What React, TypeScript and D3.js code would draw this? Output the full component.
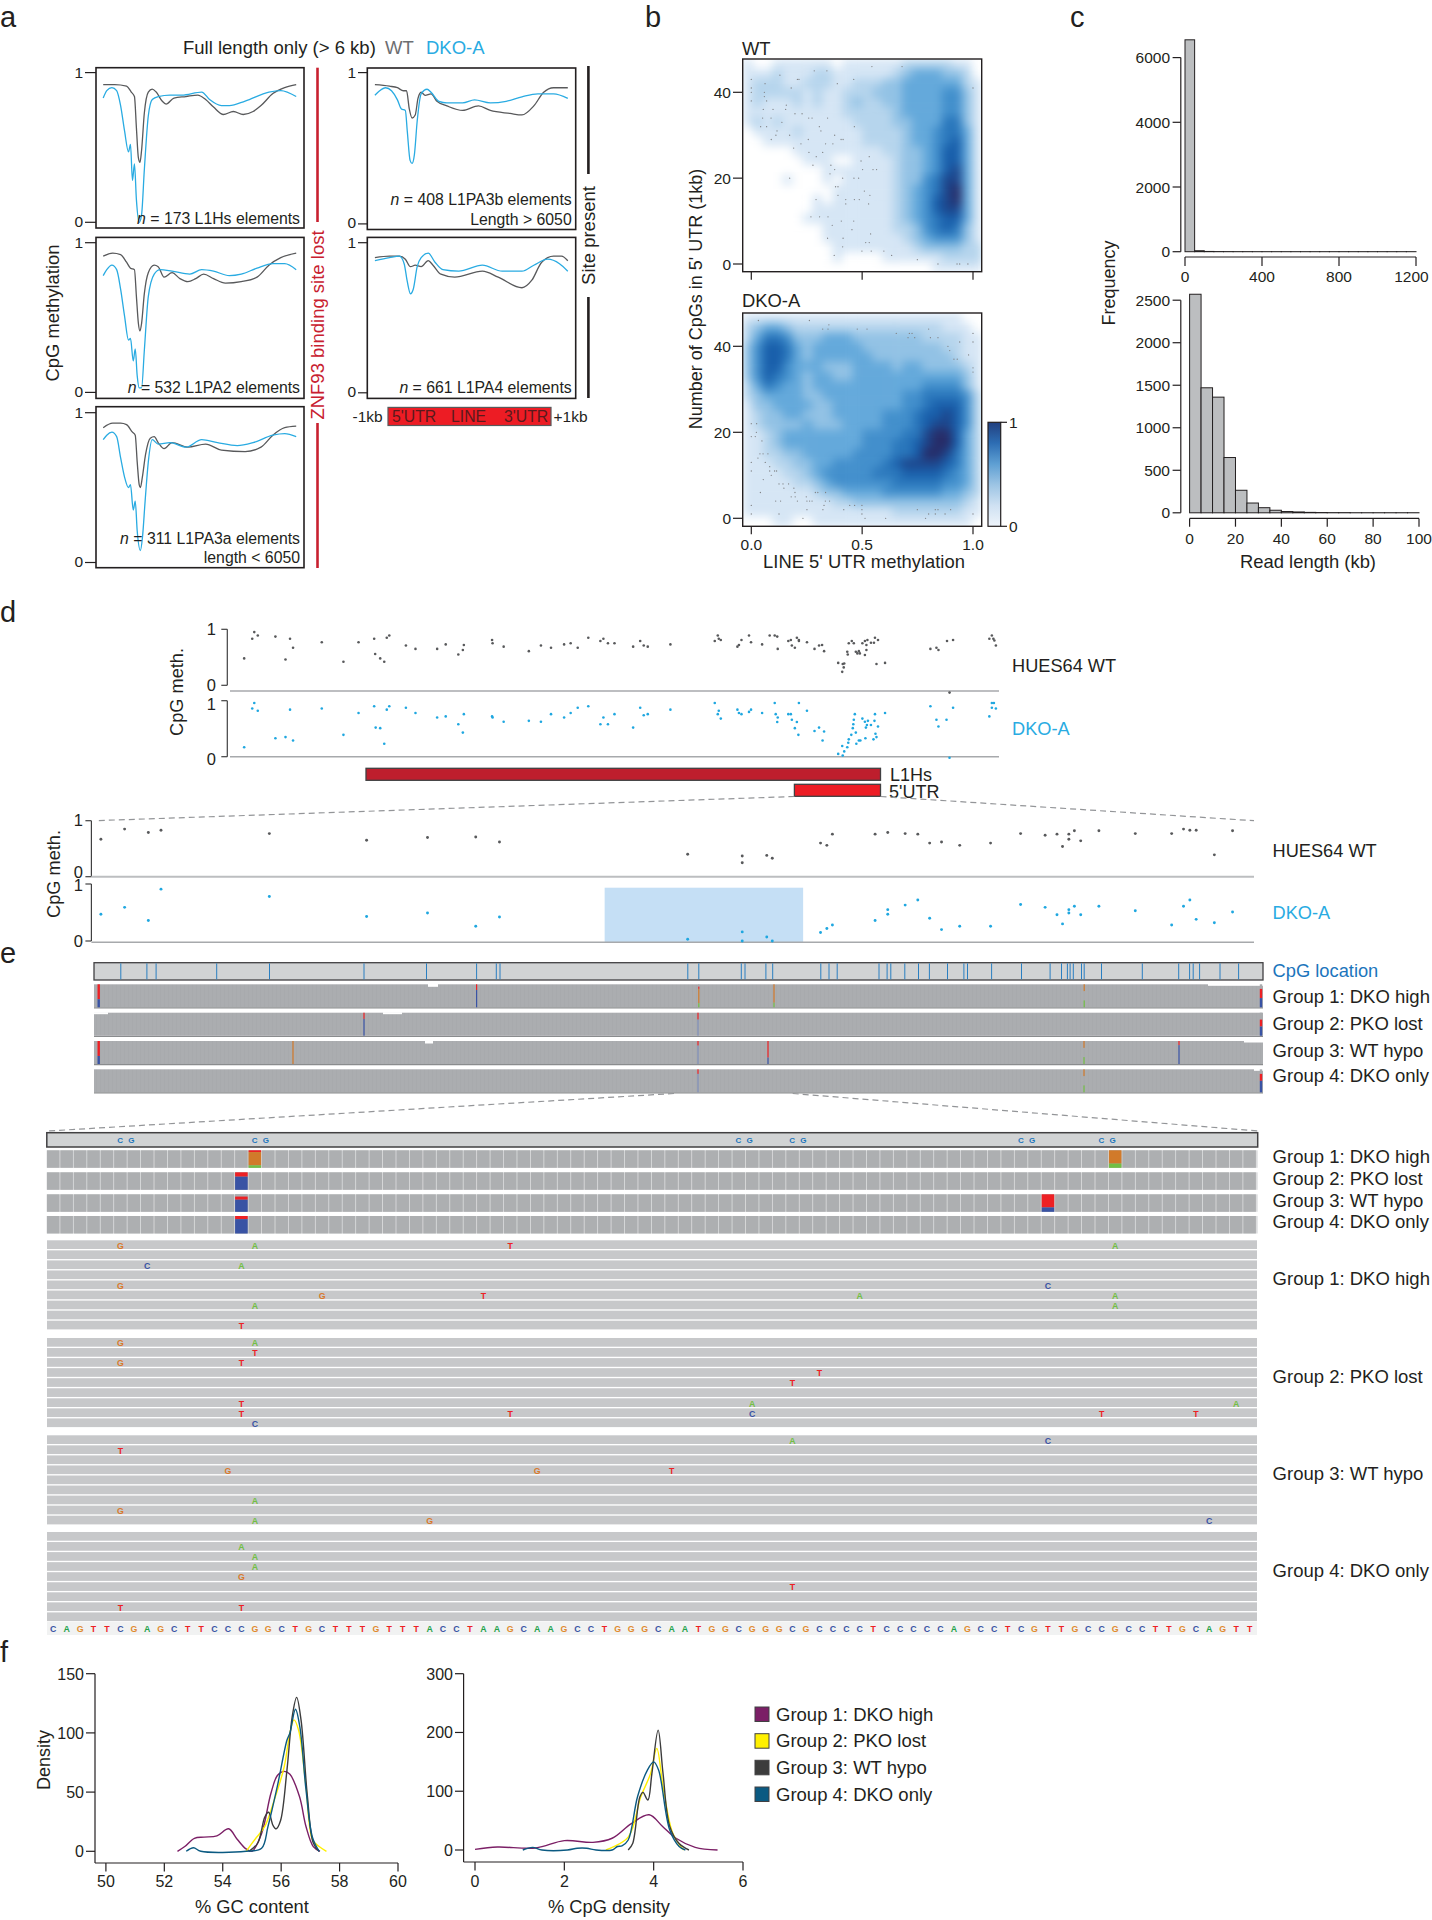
import React from "react";
import * as d3 from "d3";

// ---------- panel a: methylation profiles, [position along element, methylation]
const l1hsWt = [[0,.92],[29,.92],[59,.91],[71,.87],[79,.84],[84,.63],[89,.43],[93,.40],[97,.48],[104,.73],[114,.87],[124,.89],[134,.87],[149,.81],[159,.79],[179,.83],[209,.84],[239,.85],[259,.82],[279,.77],[304,.72],[329,.74],[354,.72],[379,.74],[399,.78],[429,.86],[459,.90],[488,.92]];
const l1hsDko = [[0,.83],[9,.88],[22,.90],[34,.88],[44,.78],[54,.61],[64,.47],[69,.52],[74,.28],[79,.39],[84,.15],[91,.0],[97,.05],[104,.35],[114,.71],[124,.82],[139,.84],[169,.85],[199,.85],[249,.87],[269,.82],[299,.78],[319,.78],[359,.81],[419,.87],[449,.88],[488,.84]];
const l1pa2Wt = [[0,.91],[24,.93],[44,.92],[59,.87],[69,.83],[79,.82],[84,.64],[89,.46],[93,.41],[97,.46],[104,.66],[114,.80],[129,.85],[139,.84],[154,.77],[174,.80],[194,.76],[214,.74],[234,.76],[254,.79],[279,.76],[309,.73],[349,.74],[389,.77],[419,.85],[449,.90],[488,.93]];
const l1pa2Dko = [[0,.78],[9,.82],[22,.85],[34,.82],[44,.69],[54,.51],[64,.35],[69,.36],[76,.21],[81,.29],[86,.11],[91,.03],[97,.03],[104,.28],[114,.64],[129,.79],[144,.82],[174,.81],[219,.79],[249,.82],[279,.81],[319,.78],[349,.79],[389,.83],[429,.86],[459,.86],[488,.82]];
const l1pa3aWt = [[0,.90],[24,.93],[44,.93],[59,.92],[74,.87],[81,.85],[86,.67],[91,.52],[94,.50],[99,.57],[107,.72],[119,.83],[129,.84],[139,.80],[154,.76],[174,.80],[214,.77],[259,.79],[299,.75],[359,.74],[399,.77],[429,.85],[459,.90],[488,.91]];
const l1pa3aDko = [[0,.82],[9,.85],[22,.87],[34,.84],[44,.70],[54,.57],[64,.50],[69,.52],[76,.35],[81,.41],[86,.21],[94,.08],[99,.16],[106,.41],[114,.67],[124,.82],[139,.79],[169,.80],[209,.77],[249,.82],[289,.80],[339,.78],[379,.80],[429,.85],[459,.86],[488,.84]];
const l1pa3bWt = [[0,.92],[37,.91],[57,.90],[72,.88],[80,.88],[87,.76],[94,.70],[102,.72],[109,.83],[117,.87],[127,.85],[142,.86],[157,.81],[182,.78],[222,.75],[262,.78],[292,.75],[342,.73],[372,.72],[402,.78],[427,.87],[452,.90],[488,.90]];
const l1pa3bDko = [[0,.85],[12,.88],[27,.90],[42,.88],[57,.82],[67,.76],[77,.75],[82,.61],[89,.42],[94,.40],[100,.46],[107,.68],[117,.86],[132,.89],[142,.87],[162,.81],[182,.80],[222,.80],[252,.82],[292,.80],[332,.81],[372,.84],[412,.86],[452,.86],[488,.83]];
const l1pa4Wt = [[0,.90],[37,.91],[62,.91],[77,.89],[90,.84],[102,.85],[117,.84],[135,.88],[147,.85],[167,.79],[202,.77],[272,.81],[312,.77],[372,.70],[397,.75],[422,.87],[452,.91],[472,.91],[488,.88]];
const l1pa4Dko = [[0,.88],[37,.90],[62,.91],[74,.86],[82,.74],[90,.66],[97,.69],[107,.84],[117,.90],[135,.93],[152,.87],[172,.82],[212,.81],[272,.85],[322,.81],[372,.81],[402,.85],[437,.89],[467,.86],[488,.81]];

// ---------- panel b: density, digit = level 0..9, top row first
const wtDensity = [
"100111111011111122222110",
"111211122111111234443320",
"122211222112223344444421",
"122222121122233344445531",
"121112121123223344445531",
"111111111122222344445531",
"121211111112222334446631",
"011112111111222234456641",
"001111111111222234456741",
"000001111111112233457741",
"000000111001111233457741",
"000000001111111233457841",
"000010001011111233568841",
"000000000111111234568941",
"000000010111111234578941",
"000000011111111234578841",
"000000111111111234567741",
"000000001111111223567631",
"000000001111111123455531",
"000000000111111112333322",
"000000000100001111112222",
"000000000000000000011111",
];
const dkoDensity = [
"111111111111111111111100",
"234432222222222222221110",
"246653334443333333222211",
"357764344444333333332211",
"357764344444433333333211",
"357754443334444344333321",
"357654344334444444444431",
"246544344444444444555531",
"234444334444444455666652",
"133444433444444455677752",
"123344333444445556778752",
"123333433344445556788752",
"112344444444555566899742",
"112344444444555667899742",
"112233444445555667998642",
"111223344555556788887642",
"111122345555566677776542",
"111112234555555666665542",
"111111123344445555554432",
"111111111223333333333321",
"111111111111111222222211",
"000110011111111111111110",
];
const wtDots = [[46,.544,.68],[45,.284,.341],[44,.129],[43,0,.208,.215,.462],[42,.062,.388],[41,0,.18,1],[40,0,.059],[39,.059],[38,0,.069],[37,.158],[36,.054,.098,.155],[35,.197,.229],[34,.051,.089,.259,.274,.344],[33,.138],[32,.042,.069,.307,.465],[31,.116,.314],[30,.111,.173,.376],[29,.09,.257,.405,.414],[28,.224,.335,.368],[27,.191],[26,.26,.322],[25,.293,.532],[24,.495],[23,.278,.359],[22,.376,.502,.549,.565],[21,.355],[20,.173,.412,.463,.484],[18,.38,.391],[17,.51],[16,.391,.535],[15,.292,.426,.465,.487],[14,.426,.529],[11,.269,.308,.346],[10,.406,.462],[9,.365],[8,.454],[7,.538],[6,.344,.414],[5,.516,.532],[4,.412],[3,.499,.541,.598],[2,.374,.633],[1,.749],[0,.842,.928,.94,.977]];
const dkoDots = [[46,.032,.262],[45,.35],[44,.322,.346,.478,.522,.8],[43,.654,.713,.725,1],[42,.707,.737,.808,.842],[41,.94,1],[40,.887],[39,.895],[38,.98],[37,.914,.929],[35,1],[34,1],[22,0,.024],[20,.023],[19,0,.018],[18,.048],[15,.039,.053,.075],[14,.03],[13,0,.063],[12,.083],[11,0,.083,.105,.114],[10,.09],[9,.054],[8,.125,.143,.168],[7,.147,.192],[6,.041,.197,.289,.3,.335],[5,.18,.198,.248],[4,.11,.132,.208,.251,.263,.274,.334,.353],[3,0,.328,.444,.466,.499],[2,.251,.323,.417,.499,.749,.83,.842,.899],[1,0,.125,.499,.8,.83,.874,1],[0,.233,.513,.606,.786]];
const heatStops = [0,.11,.3,.45,.6,.8,1];
const heatColors = ["#ffffff","#d6e6f5","#a0cae8","#62a8da","#3585c6","#155aa8","#272c68"];
const barStops = [0,.2,.4,.6,.8,1];
const barColors = ["#eef4fb","#cfe1f2","#9cc4e4","#5e9fd3","#2d6db3","#22407f"];

// ---------- panel c
const overviewBins = [6550,30,8,4,3,2,2,1,1,1,1,1,1,1,1,1,1,1,1,1,1,1,1,1];
const detailBins = [2570,1470,1360,650,265,115,60,30,15,10,5,3,2,2,1,1,1,1,1,1];

// ---------- panel d, upper tracks
const wideWtPos = [48,64,68,75,110,130,139,145,202,245,275,306,308,318,326,331,336,369,388,431,448,473,482,484,540,541,563,613,637,657,683,696,710,731,755,761,770,783,820,834,841,849,894,982,988,990,994,1027,1030,1035,1050,1054,1076,1091,1101,1106,1107,1128,1133,1135,1141,1145,1149,1149,1165,1180,1189,1195,1199,1227,1236,1239,1238,1235,1245,1246,1248,1254,1258,1262,1265,1268,1270,1275,1280,1280,1283,1283,1285,1292,1298,1300,1306,1303,1320,1410,1422,1426,1443,1455,1448,1527,1532,1535,1540,1537];
const wideWtMeth = [.48,.83,.95,.89,.87,.46,.83,.67,.77,.42,.77,.83,.56,.48,.42,.85,.89,.71,.65,.65,.73,.55,.63,.72,.81,.75,.69,.61,.71,.67,.73,.75,.67,.85,.79,.83,.75,.75,.69,.79,.71,.69,.73,.79,.89,.83,.81,.69,.72,.81,.89,.77,.73,.89,.89,.87,.65,.79,.81,.71,.67,.85,.81,.79,.77,.65,.71,.72,.61,.40,.38,.39,.32,.24,.60,.55,.75,.79,.75,.60,.57,.61,.57,.75,.54,.79,.63,.72,.81,.76,.76,.85,.81,.38,.40,.65,.67,.63,.79,.81,-.13,.83,.89,.83,.71,.80];
const wideDkoPos = [48,64,68,75,110,130,139,145,202,245,275,306,309,318,326,331,336,369,388,431,448,473,482,484,540,541,563,613,637,657,683,696,710,731,755,761,770,783,820,834,841,849,894,982,988,990,994,1027,1030,1035,1050,1054,1076,1101,1103,1107,1106,1128,1133,1135,1141,1145,1149,1148,1165,1180,1189,1199,1196,1227,1235,1239,1236,1245,1247,1248,1253,1256,1257,1258,1260,1262,1263,1268,1271,1275,1280,1281,1282,1284,1286,1292,1297,1299,1300,1301,1303,1306,1320,1410,1422,1426,1442,1455,1448,1527,1532,1536,1532,1540];
const wideDkoMeth = [.17,.86,.96,.82,.33,.35,.84,.29,.86,.39,.78,.90,.52,.51,.23,.84,.90,.875,.78,.70,.72,.58,.43,.76,.72,.70,.625,.64,.625,.76,.70,.78,.875,.90,.58,.70,.58,.76,.52,.875,.74,.76,.84,.96,.76,.82,.68,.84,.78,.76,.80,.84,.78,.96,.76,.70,.62,.76,.76,.66,.51,.62,.96,.39,.82,.46,.52,.45,.29,.05,.19,.095,.02,.17,.25,.31,.39,.51,.58,.66,.76,.43,.23,.29,.29,.68,.625,.33,.52,.565,.64,.565,.31,.64,.76,.41,.35,.54,.78,.90,.66,.54,.66,.875,-.02,.72,.96,.96,.875,.86];
// ---------- panel d, lower tracks
const utrWtPos = [77,107,137,153,290,413,490,551,581,819,888,888,919,926,987,995,1002,1056,1072,1094,1110,1125,1140,1163,1202,1240,1271,1286,1293,1301,1301,1308,1316,1339,1385,1431,1446,1454,1462,1485,1508];
const utrWtMeth = [.67,.85,.79,.83,.77,.65,.70,.71,.62,.40,.37,.25,.38,.33,.60,.56,.76,.76,.79,.77,.76,.60,.62,.56,.60,.77,.74,.76,.54,.76,.67,.82,.64,.82,.77,.77,.85,.83,.83,.39,.82];
const utrDkoPos = [77,107,137,153,290,413,490,551,581,819,888,888,919,926,987,995,1002,1056,1072,1072,1094,1110,1125,1140,1163,1202,1240,1271,1286,1293,1301,1301,1308,1316,1339,1385,1431,1446,1454,1462,1485,1508];
const utrDkoMeth = [.47,.59,.36,.91,.78,.43,.49,.26,.42,.03,.16,0,.07,0,.15,.22,.28,.36,.55,.47,.63,.72,.40,.20,.26,.26,.64,.59,.46,.30,.55,.49,.61,.46,.61,.53,.28,.61,.72,.38,.32,.51];

// ---------- panel e
const cpgSites = [26.8,52.9,62.1,122.7,175.5,270,332.5,382.6,402.3,406,593.8,604.8,647.3,651,671.9,678.7,726.8,735,743.2,785,793.1,796.8,810.8,824.5,835.4,853.5,869.9,873.5,897.6,927.5,956.1,967.5,973.4,976.1,979.3,987.5,990.2,1007.5,1048.3,1084.7,1095.6,1099.2,1105.6,1126,1144.6];
const groupNames = ["Group 1: DKO high","Group 2: PKO lost","Group 3: WT hypo","Group 4: DKO only"];
const alleleRed = "#ed2024", alleleBlue = "#3953a4", alleleOrange = "#d17a2a", alleleGreen = "#72bf44";
const trackVariants = [
  [4.7,0,[[alleleRed,.65],[alleleBlue,.35]]],[382.6,0,[[alleleRed,.25],[alleleBlue,.75]]],[604.8,0,[["#a9abae",.1],[alleleRed,.1],[alleleOrange,.62],[alleleGreen,.18]]],[680,0,[[alleleOrange,.8],[alleleGreen,.2]]],[990.2,0,[[alleleOrange,.3],["#a9abae",.4],[alleleGreen,.3]]],[1167,0,[["#a9abae",.2],[alleleRed,.4],[alleleBlue,.4]]],
  [270,1,[[alleleRed,.27],[alleleBlue,.73]]],[604,1,[[alleleRed,.3],["#7f8fb8",.7]]],[1167,1,[["#a9abae",.3],[alleleRed,.3],[alleleBlue,.4]]],
  [4.7,2,[[alleleRed,.65],[alleleBlue,.35]]],[199,2,[[alleleOrange,1]]],[604,2,[[alleleRed,.2],["#7f8fb8",.8]]],[674,2,[[alleleRed,.72],[alleleBlue,.28]]],[990,2,[[alleleOrange,.3],["#a9abae",.4],[alleleGreen,.3]]],[1085,2,[[alleleRed,.18],[alleleBlue,.82]]],
  [604,3,[[alleleRed,.2],["#7f8fb8",.8]]],[990,3,[[alleleOrange,.3],["#a9abae",.4],[alleleGreen,.3]]],[1167,3,[["#a9abae",.2],[alleleRed,.3],[alleleBlue,.5]]],
];
const trackNotches = [[0,334,10,3],[0,1114,55,2],[1,0,14,2],[1,289,19,2],[2,331,8,3],[2,1150,19,2],[3,1160,9,2]];
const refSeq = "CAGTTCGAGCTTCCCGGCTGCTTTGTTTACCTAAGCAAGCCTGGGCAATGGCGGGCGCCCCTCCCCCAGCCTCGTTGCCGCCTTGCAGTT";
const cpgCallIdx = [[5,6],[15,16],[51,52],[55,56],[72,73],[78,79]];
const cellVariants = [
  [15,0,[[alleleRed,.1],[alleleOrange,.76],[alleleGreen,.14]]],[79,0,[[alleleOrange,.76],[alleleGreen,.24]]],
  [14,1,[[alleleRed,.25],[alleleBlue,.75]]],
  [14,2,[["#a9abae",.13],[alleleRed,.18],[alleleBlue,.69]]],[74,2,[[alleleRed,.75],[alleleBlue,.25]]],
  [14,3,[[alleleRed,.18],[alleleBlue,.82]]],
];
const readsGroup1 = [[0,5,"G"],[0,15,"A"],[0,34,"T"],[0,79,"A"],[2,7,"C"],[2,14,"A"],[4,5,"G"],[4,74,"C"],[5,20,"G"],[5,32,"T"],[5,60,"A"],[5,79,"A"],[6,15,"A"],[6,79,"A"],[8,14,"T"]];
const readsGroup2 = [[0,5,"G"],[0,15,"A"],[1,15,"T"],[2,5,"G"],[2,14,"T"],[3,57,"T"],[4,55,"T"],[6,14,"T"],[6,52,"A"],[6,88,"A"],[7,14,"T"],[7,34,"T"],[7,52,"C"],[7,78,"T"],[7,85,"T"],[8,15,"C"]];
const readsGroup3 = [[0,55,"A"],[0,74,"C"],[1,5,"T"],[3,13,"G"],[3,36,"G"],[3,46,"T"],[6,15,"A"],[7,5,"G"],[8,15,"A"],[8,28,"G"],[8,86,"C"]];
const readsGroup4 = [[1,14,"A"],[2,15,"A"],[3,15,"A"],[4,14,"G"],[5,55,"T"],[7,5,"T"],[7,14,"T"]];

// ---------- panel f
const gcGroup1 = [[52.45,0],[52.7,4],[53.03,11],[53.36,12],[53.8,13],[54.2,19],[54.5,10],[54.8,2],[55,0],[55.33,15],[55.65,49],[55.87,64],[56.1,67.5],[56.3,65],[56.63,46],[56.85,21],[57.1,4],[57.33,0]];
const gcGroup2 = [[54.8,0],[55.1,10],[55.44,21],[55.76,43],[56.1,71],[56.3,100],[56.44,111],[56.6,102],[56.85,55],[57.07,10],[57.3,4],[57.55,0]];
const gcGroup3 = [[54.9,0],[55.2,7],[55.44,29],[55.57,33],[55.72,22],[55.83,19],[55.98,26],[56.2,69],[56.38,114],[56.53,130],[56.68,111],[56.9,46],[57.1,7],[57.3,0]];
const gcGroup4 = [[52.75,0],[53,3],[53.25,0],[54.8,0],[55.33,2.5],[55.55,21],[55.87,55],[56.2,94],[56.3,100],[56.49,120],[56.64,105],[56.85,52],[57.07,12],[57.3,0]];
const cpgGroup1 = [[0,1],[.5,5],[1.36,3.4],[2,16],[2.64,13],[3.07,20],[3.5,45],[3.9,60],[4.2,40],[4.5,20],[4.93,4.5],[5.43,0]];
const cpgGroup2 = [[2.93,0],[3.43,22],[3.71,90],[3.93,130],[4.07,173],[4.21,108],[4.43,28],[4.67,0]];
const cpgGroup3 = [[3.43,0],[3.53,11],[3.69,90],[3.76,98],[3.87,85],[3.96,130],[4.1,204],[4.21,130],[4.36,40],[4.57,11],[4.79,0]];
const cpgGroup4 = [[1.07,0],[1.29,4.5],[1.5,0],[2.07,0],[2.29,3],[2.5,3],[2.71,0],[3.07,0],[3.19,6],[3.29,7],[3.43,17],[3.64,91],[3.86,136],[4,150],[4.11,136],[4.36,34],[4.57,6],[4.71,0]];
const groupColors = ["#7b1f66","#fff000","#3c3c3c","#0b5a82"];

// ---------- shared style
const FONT = "'Liberation Sans', Arial, sans-serif";
const INK = "#231f20", WT = "#58595b", DKO = "#29abe2", RED = "#c8202f";
const T = ({x,y,s=16,a="start",fill=INK,rot,children,fw,it}:any) => (
  <text x={x} y={y} fontSize={s} textAnchor={a} fill={fill} fontWeight={fw} fontStyle={it}
    transform={rot!==undefined?`rotate(${rot} ${x} ${y})`:undefined}>{children}</text>
);
const H = ({x1,x2,y,c=INK,w=1.2}:any)=><line x1={x1} x2={x2} y1={y} y2={y} stroke={c} strokeWidth={w}/>;
const V = ({x,y1,y2,c=INK,w=1.2}:any)=><line x1={x} x2={x} y1={y1} y2={y2} stroke={c} strokeWidth={w}/>;

function MethPanel({box,lineX,yTick,wt,dko,tickX,labels}:any){
  const xs = d3.scaleLinear().domain([0,488]).range(lineX);
  const ys = d3.scaleLinear().domain([0,1]).range(yTick);
  const line = d3.line<any>().x(d=>xs(d[0])).y(d=>ys(d[1])).curve(d3.curveMonotoneX);
  return <g>
    <rect x={box[0]} y={box[1]} width={box[2]-box[0]} height={box[3]-box[1]} fill="#fff" stroke={INK} strokeWidth={1.6}/>
    {[0,1].map(v=><g key={v}><H x1={tickX} x2={box[0]} y={ys(v)}/><T x={tickX-2} y={ys(v)+(v?5:4.5)} s={15.5} a="end">{v}</T></g>)}
    <path d={line(wt)!} fill="none" stroke={WT} strokeWidth={1.3}/>
    <path d={line(dko)!} fill="none" stroke={DKO} strokeWidth={1.3}/>
    {labels.map((l:any,i:number)=><T key={i} x={box[2]-4} y={l[1]} s={15.8} a="end">{l[2]?<tspan fontStyle="italic">n</tspan>:null}{l[0]}</T>)}
  </g>;
}

function PanelA(){
  return <g>
    <T x={183} y={53.5} s={18.5}>Full length only (&gt; 6 kb)</T>
    <T x={385} y={53.5} s={18.5} fill="#6d6e71">WT</T>
    <T x={426} y={53.5} s={18.5} fill={DKO}>DKO-A</T>
    <MethPanel box={[96,67.7,304,228]} lineX={[103.2,296.2]} yTick={[222.3,72.6]} tickX={85} wt={l1hsWt} dko={l1hsDko} labels={[[" = 173 L1Hs elements",224,true]]}/>
    <MethPanel box={[96,237.4,304,398.4]} lineX={[103.2,296.2]} yTick={[392.4,242.7]} tickX={85} wt={l1pa2Wt} dko={l1pa2Dko} labels={[[" = 532 L1PA2 elements",393,true]]}/>
    <MethPanel box={[96,406.7,304,567.7]} lineX={[103.2,296.2]} yTick={[562.5,412.7]} tickX={85} wt={l1pa3aWt} dko={l1pa3aDko} labels={[[" = 311 L1PA3a elements",544.4,true],["length < 6050",562.5,false]]}/>
    <MethPanel box={[367.3,68,575.7,229.5]} lineX={[374.9,567.8]} yTick={[223.9,72.6]} tickX={358} wt={l1pa3bWt} dko={l1pa3bDko} labels={[[" = 408 L1PA3b elements",205,true],["Length > 6050",225,false]]}/>
    <MethPanel box={[367.3,237.4,575.7,398.4]} lineX={[374.9,567.8]} yTick={[392.8,242.7]} tickX={358} wt={l1pa4Wt} dko={l1pa4Dko} labels={[[" = 661 L1PA4 elements",393,true]]}/>
    <T x={59} y={313} s={18.4} a="middle" rot={-90}>CpG methylation</T>
    <V x={317.5} y1={67.7} y2={222} c={RED} w={2.6}/>
    <V x={317.5} y1={423} y2={568} c={RED} w={2.6}/>
    <T x={324} y={325} s={18.5} a="middle" rot={-90} fill={RED}>ZNF93 binding site lost</T>
    <V x={588.4} y1={66} y2={174} w={2.6}/>
    <V x={588.4} y1={297} y2={398} w={2.6}/>
    <T x={595} y={235.5} s={18.5} a="middle" rot={-90}>Site present</T>
    <rect x={388} y={407.4} width={163} height={18.1} fill="#ed1c24" stroke="#58595b" strokeWidth={1.2}/>
    <T x={392} y={422} s={15.8} fill="#5a1a1c">5'UTR</T>
    <T x={451} y={422} s={15.8} fill="#5a1a1c">LINE</T>
    <T x={504} y={422} s={15.8} fill="#5a1a1c">3'UTR</T>
    <T x={352.5} y={422} s={15.5}>-1kb</T>
    <T x={553.5} y={422} s={15.5}>+1kb</T>
  </g>;
}

function Heat({id,rows,dots,top,bottom,y40}:any){
  const left=742.7,right=981.7;
  const xv=d3.scaleLinear().domain([0,1]).range([751.3,973]);
  const yn=d3.scaleLinear().domain([0,40]).range([y40[0],y40[1]]);
  const colorOf=d3.scaleLinear<string>().domain(heatStops).range(heatColors);
  const cx=d3.scaleBand<number>().domain(d3.range(rows[0].length)).range([left,right]);
  const cy=d3.scaleBand<number>().domain(d3.range(rows.length)).range([top,bottom]);
  return <g>
    <clipPath id={id+"c"}><rect x={left} y={top} width={right-left} height={bottom-top}/></clipPath>
    <g clipPath={`url(#${id+"c"})`}>
      <g filter="url(#heatBlur)">
        {rows.map((r:string,j:number)=>r.split("").map((ch,i)=>
          <rect key={i+"_"+j} x={cx(i)} y={cy(j)} width={cx.bandwidth()+.5} height={cy.bandwidth()+.5} fill={colorOf(+ch/9)}/>))}
      </g>
      {dots.map((d:number[],i:number)=>d.slice(1).map((v,k)=>
        <circle key={i+"_"+k} cx={xv(v)} cy={yn(d[0])} r={.65} fill="#808285"/>))}
    </g>
    <rect x={left} y={top} width={right-left} height={bottom-top} fill="none" stroke={INK} strokeWidth={1.4}/>
    {[0,20,40].map(v=><g key={v}><H x1={733} x2={left} y={yn(v)}/><T x={731} y={yn(v)+5.5} s={15.5} a="end">{v}</T></g>)}
    {[0,.5,1].map(v=><V key={v} x={xv(v)} y1={bottom} y2={bottom+8}/>)}
  </g>;
}

function PanelB(){
  const xv=d3.scaleLinear().domain([0,1]).range([751.3,973]);
  const bar=d3.scaleLinear<string>().domain(barStops).range(barColors);
  return <g>
    <defs>
      <filter id="heatBlur" x="-10%" y="-10%" width="120%" height="120%" colorInterpolationFilters="sRGB"><feGaussianBlur stdDeviation="5"/></filter>
      <linearGradient id="barGrad" x1="0" x2="0" y1="1" y2="0">{barStops.map(s=><stop key={s} offset={s} stopColor={bar(s)}/>)}</linearGradient>
    </defs>
    <T x={742} y={54.5} s={18.4}>WT</T>
    <Heat id="wt" rows={wtDensity} dots={wtDots} top={59} bottom={271.7} y40={[264,92.3]}/>
    <T x={742} y={306.6} s={18.4}>DKO-A</T>
    <Heat id="dko" rows={dkoDensity} dots={dkoDots} top={313} bottom={526.3} y40={[518.3,346.3]}/>
    {[0,.5,1].map(v=><T key={v} x={xv(v)} y={549.7} s={15.5} a="middle">{v.toFixed(1)}</T>)}
    <T x={864} y={568} s={18.4} a="middle">LINE 5' UTR methylation</T>
    <T x={702} y={299} s={18} a="middle" rot={-90}>Number of CpGs in 5' UTR (1kb)</T>
    <rect x={988} y={422.3} width={12.7} height={104} fill="url(#barGrad)" stroke={INK} strokeWidth={1.2}/>
    <H x1={1000.7} x2={1007} y={422.3}/><H x1={1000.7} x2={1007} y={526.3}/>
    <T x={1009} y={428} s={15.5}>1</T><T x={1009} y={532} s={15.5}>0</T>
  </g>;
}

function PanelC(){
  const yTop=d3.scaleLinear().domain([0,6000]).range([251.7,57.6]);
  const xTop=d3.scaleLinear().domain([0,1200]).range([1185,1416]);
  const yLow=d3.scaleLinear().domain([0,2500]).range([512.8,300.2]);
  const xLow=d3.scaleLinear().domain([0,100]).range([1189.6,1419]);
  return <g>
    <V x={1180.8} y1={yTop(6000)} y2={yTop(0)}/>
    {[0,2000,4000,6000].map(v=><g key={v}><H x1={1172.6} x2={1180.8} y={yTop(v)}/><T x={1170} y={yTop(v)+5.5} s={15.5} a="end">{v}</T></g>)}
    {overviewBins.map((c,i)=><rect key={i} x={xTop(i*50)} y={yTop(c)} width={xTop(50)-xTop(0)} height={yTop(0)-yTop(c)} fill="#bcbec0" stroke={INK} strokeWidth={1}/>)}
    <H x1={1185} x2={1416} y={257} />
    {[0,400,800,1200].map(v=><g key={v}><V x={xTop(v)} y1={257} y2={266}/><T x={xTop(v)-(v===1200?4.5:0)} y={282} s={15.5} a="middle">{v}</T></g>)}
    <T x={1115} y={283} s={18} a="middle" rot={-90}>Frequency</T>
    <V x={1180.8} y1={yLow(2500)} y2={yLow(0)}/>
    {[0,500,1000,1500,2000,2500].map(v=><g key={v}><H x1={1172.6} x2={1180.8} y={yLow(v)}/><T x={1170} y={yLow(v)+5.5} s={15.5} a="end">{v}</T></g>)}
    {detailBins.map((c,i)=><rect key={i} x={xLow(i*5)} y={yLow(c)} width={xLow(5)-xLow(0)} height={yLow(0)-yLow(c)} fill="#bcbec0" stroke={INK} strokeWidth={1}/>)}
    <H x1={1189.6} x2={1419} y={518.4}/>
    {[0,20,40,60,80,100].map(v=><g key={v}><V x={xLow(v)} y1={518.4} y2={526.7}/><T x={xLow(v)} y={543.6} s={15.5} a="middle">{v}</T></g>)}
    <T x={1308} y={568} s={18.4} a="middle">Read length (kb)</T>
  </g>;
}

function Track({pos,meth,xs,y1,y0,color,r}:any){
  const ys=d3.scaleLinear().domain([0,1]).range([y0,y1]);
  return <g>{pos.map((p:number,i:number)=><circle key={i} cx={xs(p)} cy={ys(meth[i])} r={r} fill={color}/>)}</g>;
}
function YAx({x,y1,y0,labelX,base1,base0}:any){
  return <g>
    <V x={x} y1={y1} y2={y0} c="#404041"/>
    <H x1={x-6} x2={x} y={y1} c="#404041"/><H x1={x-6} x2={x} y={y0} c="#404041"/>
    <T x={labelX} y={base1} s={16.5} a="end">1</T><T x={labelX} y={base0} s={16.5} a="end">0</T>
  </g>;
}
function PanelD(){
  const xw=d3.scaleLinear().domain([0,1568]).range([220,1010]);
  const xu=d3.scaleLinear().domain([0,1568]).range([40,1280]);
  return <g>
    <YAx x={227.3} y1={629.3} y0={685.3} labelX={216} base1={635} base0={690.7}/>
    <YAx x={227.3} y1={700.7} y0={756.7} labelX={216} base1={710} base0={765}/>
    <H x1={230} x2={999} y={691} c="#a7a9ac" w={1.5}/>
    <H x1={230} x2={999} y={756.7} c="#a7a9ac" w={1.5}/>
    <T x={183} y={692} s={18.2} a="middle" rot={-90}>CpG meth.</T>
    <Track pos={wideWtPos} meth={wideWtMeth} xs={xw} y1={629.3} y0={685.3} color={WT} r={1.3}/>
    <Track pos={wideDkoPos} meth={wideDkoMeth} xs={xw} y1={700.7} y0={756.7} color="#1fa7e0" r={1.3}/>
    <T x={1012} y={671.5} s={18.2}>HUES64 WT</T>
    <T x={1012} y={735} s={18.2} fill={DKO}>DKO-A</T>
    <rect x={366} y={768.3} width={514.5} height={12} fill="#be1e2d" stroke="#414042" strokeWidth={1.3}/>
    <rect x={794.4} y={784.3} width={86.1} height={12} fill="#ed1c24" stroke="#414042" strokeWidth={1.3}/>
    <T x={890} y={780.5} s={18}>L1Hs</T>
    <T x={889} y={798} s={18}>5'UTR</T>
    <line x1={794.4} y1={796.5} x2={95} y2={820.7} stroke="#939598" strokeWidth={1.2} strokeDasharray="6 4"/>
    <line x1={880.5} y1={796.5} x2={1254} y2={820.7} stroke="#939598" strokeWidth={1.2} strokeDasharray="6 4"/>
    <rect x={xu(714)} y={887.7} width={xu(965)-xu(714)} height={54.3} fill="#c5dff5"/>
    <YAx x={91.4} y1={820.7} y0={876.7} labelX={83} base1={825.5} base0={878}/>
    <YAx x={91.4} y1={884} y0={941} labelX={83} base1={891} base0={947}/>
    <H x1={91.4} x2={1254} y={876.7} c="#bcbec0" w={2}/>
    <H x1={91.4} x2={1254} y={942.3} c="#a7a9ac" w={1.6}/>
    <T x={60} y={874} s={18.2} a="middle" rot={-90}>CpG meth.</T>
    <Track pos={utrWtPos} meth={utrWtMeth} xs={xu} y1={820.7} y0={876.7} color={WT} r={1.45}/>
    <Track pos={utrDkoPos} meth={utrDkoMeth} xs={xu} y1={884} y0={941} color="#1fa7e0" r={1.45}/>
    <T x={1272.6} y={857} s={18.2}>HUES64 WT</T>
    <T x={1272.6} y={919} s={18.2} fill={DKO}>DKO-A</T>
  </g>;
}

function stackCol(segs:any[],x:number,w:number,y:number,h:number,key:any){
  let acc=0;
  return <g key={key}>{segs.map((s,i)=>{const e=<rect key={i} x={x} y={y+acc*h} width={w} height={s[1]*h} fill={s[0]}/>;acc+=s[1];return e;})}</g>;
}
const baseColor:any={A:"#72bf44",C:"#3953a4",G:"#d9782b",T:"#ed2024"};
const refColor:any={A:"#1fa24a",C:"#3953a4",G:"#e08a2e",T:"#ed2024"};

function PanelE(){
  const xg=d3.scaleLinear().domain([0,1169]).range([94,1263]);
  const xb=d3.scaleLinear().domain([0,89]).range([53.2,1249.6]);
  const trackTop=[984.3,1012.7,1041,1069.3], trackH=23;
  const rowTop=[1150.3,1172.3,1194.3,1216], rowH=17.5;
  const readTop=[1240.3,1338,1435.3,1532];
  const reads=[readsGroup1,readsGroup2,readsGroup3,readsGroup4];
  const labelY=[1285,1382.7,1480,1576.7];
  const covY=[1002.7,1030,1057.3,1082], cellY=[1163.3,1185,1206.7,1228.3];
  return <g>
    <defs><pattern id="covStripe" width="4" height="10" patternUnits="userSpaceOnUse"><rect width="4" height="10" fill="#abadb0"/><rect width="1" height="10" fill="#a8aaad"/></pattern></defs>
    <rect x={xg(0)} y={962.7} width={xg(1169)-xg(0)} height={17.3} fill="#d1d3d4" stroke="#414042" strokeWidth={1.3}/>
    {cpgSites.map((p,i)=><V key={i} x={xg(p)} y1={963.4} y2={979.4} c="#2a7fc1" w={1}/>)}
    <T x={1272.6} y={976.7} s={18.3} fill="#1c75bc">CpG location</T>
    {trackTop.map((t,i)=><g key={i}>
      <rect x={xg(0)} y={t} width={xg(1169)-xg(0)} height={trackH} fill="url(#covStripe)"/>
      <H x1={xg(0)} x2={xg(1169)} y={t+trackH+.6} c="#8a8c8e" w={1.2}/>
      <T x={1272.6} y={covY[i]} s={18.5}>{groupNames[i]}</T>
    </g>)}
    {trackNotches.map((n,i)=><rect key={i} x={xg(n[1])} y={trackTop[n[0]]-.5} width={n[2]} height={n[3]} fill="#fff"/>)}
    {trackVariants.map((v:any,i)=>{const edge=v[0]<10||v[0]>1160;return stackCol(v[2],xg(v[0])-(edge?1.2:.6),edge?2.4:1.2,trackTop[v[1]],trackH,i);})}
    <line x1={674} y1={1093.5} x2={48} y2={1131} stroke="#939598" strokeWidth={1.2} strokeDasharray="6 4"/>
    <line x1={792.7} y1={1093.5} x2={1258} y2={1131} stroke="#939598" strokeWidth={1.2} strokeDasharray="6 4"/>
    <rect x={46.8} y={1132.7} width={1210.9} height={14.3} fill="#d1d3d4" stroke="#414042" strokeWidth={1.5}/>
    {cpgCallIdx.map((p,i)=><g key={i}>
      <text x={xb(p[0])-.3} y={1143} fontSize={8} fontWeight="bold" textAnchor="middle" fill="#1c75bc">C</text>
      <text x={xb(p[1])-2.5} y={1143} fontSize={8} fontWeight="bold" textAnchor="middle" fill="#1c75bc">G</text>
    </g>)}
    {rowTop.map((t,i)=><g key={i}>
      <rect x={46.8} y={t} width={1210.9} height={rowH} fill="#dcddde"/>
      {d3.range(90).map(k=><rect key={k} x={xb(k)-6.3} y={t} width={12.6} height={rowH} fill="#adafb1"/>)}
      <T x={1272.6} y={cellY[i]} s={18.5}>{groupNames[i]}</T>
    </g>)}
    {cellVariants.map((v:any,i)=>stackCol(v[2],xb(v[0])-6.3,12.6,rowTop[v[1]],rowH,i))}
    {reads.map((rs,g)=><g key={g}>
      {d3.range(9).map(r=><rect key={r} x={47} y={readTop[g]+r*10.05} width={1210} height={8.7} fill="#c7c8ca"/>)}
      {rs.map((m:any,i)=><text key={i} x={xb(m[1])} y={readTop[g]+m[0]*10.05+8.2} fontSize={8.8} fontWeight="bold" textAnchor="middle" fill={baseColor[m[2]]}>{m[2]}</text>)}
      <T x={1272.6} y={labelY[g]} s={18.5}>{groupNames[g]}</T>
    </g>)}
    <rect x={47} y={1621.7} width={1210} height={13.3} fill="#f1f2f2"/>
    {refSeq.split("").map((b,i)=><text key={i} x={xb(i)} y={1632} fontSize={8.8} fontWeight="bold" textAnchor="middle" fill={refColor[b]}>{b}</text>)}
  </g>;
}

function Density({curves,xs,ys,xTicks,yTicks,axisX,axisY,tickLeft,title}:any){
  const line=d3.line<any>().x(d=>xs(d[0])).y(d=>ys(d[1])).curve(d3.curveCatmullRom.alpha(0.5));
  const last=xTicks[xTicks.length-1];
  return <g>
    <V x={axisX} y1={ys(yTicks[yTicks.length-1])} y2={axisY}/>
    {yTicks.map((v:number)=><g key={v}><H x1={tickLeft} x2={axisX} y={ys(v)}/><T x={tickLeft-2} y={ys(v)+6} s={16} a="end">{v}</T></g>)}
    <H x1={axisX} x2={xs(last)} y={axisY}/>
    {xTicks.map((v:number)=><g key={v}><V x={xs(v)} y1={axisY} y2={axisY+8.5}/><T x={xs(v)} y={1887.3} s={16} a="middle">{v}</T></g>)}
    {curves.map((c:any,i:number)=><path key={i} d={line(c)!} fill="none" stroke={groupColors[i]} strokeWidth={1.4}/>)}
    <T x={(xs(xTicks[0])+xs(last))/2} y={1913.3} s={18.3} a="middle">{title}</T>
  </g>;
}
function PanelF(){
  const xgc=d3.scaleLinear().domain([50,60]).range([105.9,398]);
  const ygc=d3.scaleLinear().domain([0,150]).range([1851.3,1673.7]);
  const xcp=d3.scaleLinear().domain([0,6]).range([475,743]);
  const ycp=d3.scaleLinear().domain([0,300]).range([1850,1673.7]);
  const legY=[1707,1733.7,1760.3,1787];
  return <g>
    <Density curves={[gcGroup1,gcGroup2,gcGroup3,gcGroup4]} xs={xgc} ys={ygc} xTicks={[50,52,54,56,58,60]} yTicks={[0,50,100,150]} axisX={95} axisY={1863} tickLeft={86} title="% GC content"/>
    <Density curves={[cpgGroup1,cpgGroup2,cpgGroup3,cpgGroup4]} xs={xcp} ys={ycp} xTicks={[0,2,4,6]} yTicks={[0,100,200,300]} axisX={463.6} axisY={1862} tickLeft={455} title="% CpG density"/>
    <T x={50} y={1760} s={18} a="middle" rot={-90}>Density</T>
    {groupNames.map((n,i)=><g key={i}>
      <rect x={755} y={legY[i]} width={14} height={14.5} fill={groupColors[i]} stroke="#414042" strokeWidth={1}/>
      <T x={776} y={legY[i]+13.7} s={18.5}>{n}</T>
    </g>)}
  </g>;
}

export default function App(){
  return <svg width={1432} height={1920} viewBox="0 0 1432 1920" fontFamily={FONT}
    style={{position:"absolute",left:0,top:0,display:"block",background:"#fff"}}>
    <T x={0} y={27} s={29}>a</T>
    <T x={645} y={27} s={29}>b</T>
    <T x={1070} y={27} s={29}>c</T>
    <T x={0} y={622} s={29}>d</T>
    <T x={0} y={963} s={29}>e</T>
    <T x={0} y={1662} s={29}>f</T>
    <PanelA/><PanelB/><PanelC/><PanelD/><PanelE/><PanelF/>
  </svg>;
}
